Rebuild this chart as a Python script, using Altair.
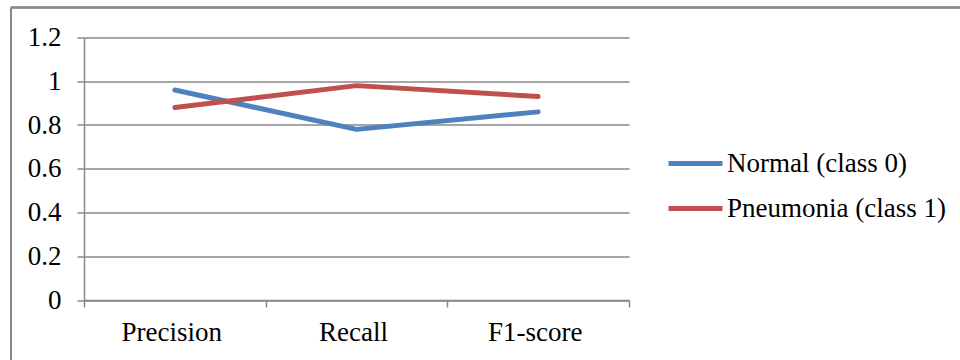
import altair as alt
import pandas as pd

metrics = ["Precision", "Recall", "F1-score"]
normal = [0.96, 0.78, 0.86]
pneumonia = [0.88, 0.98, 0.93]
series_names = ["Normal (class 0)", "Pneumonia (class 1)"]
series_colors = ["#4F81BD", "#C0504D"]
y_ticks = [0, 0.2, 0.4, 0.6, 0.8, 1, 1.2]

rows = []
for name, vals in zip(series_names, [normal, pneumonia]):
    for m, v in zip(metrics, vals):
        rows.append({"metric": m, "value": v, "series": name})
df = pd.DataFrame(rows)

FONT = "Times New Roman, Liberation Serif, serif"
FS = 27
GRID = "#888888"

lines = alt.Chart(df).mark_line(strokeWidth=5, strokeCap="round", strokeJoin="round").encode(
    x=alt.X(
        "metric:N",
        sort=metrics,
        scale=alt.Scale(paddingInner=0, paddingOuter=0),
        axis=alt.Axis(
            title=None, labelAngle=0, tickBand="extent", grid=False,
            domainColor=GRID, domainWidth=1.5, tickColor=GRID, tickWidth=1.5,
            tickSize=7, labelPadding=12, labelOffset=-3.5, labelFont=FONT,
            labelFontSize=FS, labelColor="black",
        ),
    ),
    y=alt.Y(
        "value:Q",
        scale=alt.Scale(domain=[0, 1.2], nice=False),
        axis=alt.Axis(
            title=None, values=y_ticks, format="~g", grid=True,
            gridColor=GRID, gridWidth=1.5, domainColor=GRID, domainWidth=1.5,
            tickColor=GRID, tickWidth=1.5, tickSize=7, labelPadding=16,
            labelFont=FONT, labelFontSize=FS, labelColor="black",
        ),
    ),
    color=alt.Color(
        "series:N",
        sort=series_names,
        scale=alt.Scale(domain=series_names, range=series_colors),
        legend=alt.Legend(
            title=None, orient="none", legendX=582, legendY=96.5,
            symbolType="stroke", symbolSize=2916, symbolStrokeWidth=5,
            labelFont=FONT, labelFontSize=FS, labelColor="black",
            labelOffset=2, rowPadding=2, labelLimit=400,
        ),
    ),
)

# outer frame around the whole chart
frame_top = alt.Chart(df).mark_rule(color=GRID, strokeWidth=1.5, clip=False).encode(
    x=alt.value(-73), x2=alt.value(900), y=alt.value(-30)
)
frame_left = alt.Chart(df).mark_rule(color=GRID, strokeWidth=1.5, clip=False).encode(
    x=alt.value(-73), y=alt.value(-30), y2=alt.value(340)
)

chart = alt.layer(lines, frame_top, frame_left).properties(
    width=545, height=262.5,
    padding={"left": 84, "top": 37.5, "right": 331, "bottom": 60},
    autosize=alt.AutoSizeParams(type="none"),
    background="white",
).configure_view(stroke=None)

chart.save("out.html", embed_options={"renderer": "svg", "actions": False})
